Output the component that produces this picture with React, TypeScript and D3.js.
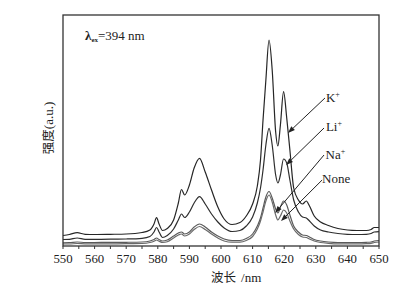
import React from "react";
import * as d3 from "d3";

const wavelengths = [550, 552, 554.5, 557, 560, 565, 570, 575, 577.5, 578.8, 579.6, 580.4, 581.5, 583, 585, 586.5, 587.5, 588.5, 590, 591.5, 593.2, 595, 597, 599, 601, 603.5, 606, 608, 610, 611.5, 612.5, 613.3, 614.2, 615.2, 616.2, 617.3, 618, 618.8, 619.8, 620.8, 621.8, 623, 624.5, 625.8, 627, 628, 629.5, 631.5, 634, 637, 640, 643, 646, 647.5, 648.5, 650];

const kValues = [10.5, 11.5, 13.3, 11.7, 11.5, 11.7, 12, 13.5, 16, 22, 28.3, 22, 15.5, 17.5, 26, 43, 56.5, 51, 61, 78, 87.7, 74, 56, 39, 27, 21.5, 23.5, 30, 42, 60, 86, 126, 166, 206, 176, 114, 100, 121, 154.3, 128, 96, 58, 46, 42, 45, 40, 30, 24, 20.5, 17.5, 16, 15.5, 15.5, 16.5, 18.5, 18.5];
const liValues = [6.5, 6.7, 8, 6.7, 6.7, 6.8, 7, 7.7, 9.5, 14, 18.5, 14, 8.5, 10.5, 17, 26, 32, 28.5, 34, 43, 49.3, 42, 32, 24, 18, 14.5, 15.5, 20, 29, 43, 58, 76, 101, 117.7, 101, 71, 63, 71, 87, 83, 66, 46, 34, 29, 28, 25, 20, 16, 14, 12.5, 11.7, 11.5, 11.7, 12.5, 14, 14.3];
const naValues = [3.2, 3.3, 4, 3.5, 3.5, 3.6, 3.7, 4, 5, 6.5, 8, 6.5, 5, 6, 10, 13, 14, 12, 14, 19, 22, 19, 14, 10, 7, 5.5, 5.5, 7.5, 12, 20, 28, 38, 49, 54.5, 48, 37, 33, 39, 45, 41, 31, 20, 14, 11, 10.5, 9, 6.5, 5, 4, 3.5, 3.5, 3.5, 3.7, 4, 5, 5.5];
const noneValues = [2, 2, 2.5, 2.2, 2.2, 2.2, 2.3, 2.5, 3.5, 4.8, 6, 4.8, 3.5, 4.3, 8, 11, 12, 10, 12, 16.5, 19.5, 16.5, 12, 8, 5, 3.8, 3.8, 5.5, 9.5, 17, 25, 34, 45, 51, 44, 31, 26, 30, 36, 33, 25, 17, 11.5, 9, 8.5, 7, 5, 3.5, 2.7, 2.2, 2.2, 2.2, 2.4, 2.7, 3.5, 4];

const seriesNames = ["K", "Li", "Na", "None"];
const seriesSup = ["+", "+", "+", ""];
const seriesValues = [kValues, liValues, naValues, noneValues];
const seriesColors = ["#262626", "#2e2e2e", "#5a5a5a", "#6a6a6a"];

// annotation: label anchor (nm, intensity), arrow start, arrow tip
const labelNm = [633.2, 633.2, 633.1, 632];
const labelVal = [144, 115, 87, 63.5];
const arrowFromNm = [632.9, 632.6, 632.6, 632];
const arrowFromVal = [148, 118, 91, 66];
const arrowToNm = [621.2, 620.6, 617.1, 619];
const arrowToVal = [113, 81, 33, 25];

const xTicks = [550, 555, 560, 565, 570, 575, 580, 585, 590, 595, 600, 605, 610, 615, 620, 625, 630, 635, 640, 645, 650];

const W = 417;
const H = 290;
const M = { left: 63, right: 379, top: 15, bottom: 246 };

export default function App() {
  const x = d3.scaleLinear().domain([550, 650]).range([M.left, M.right]);
  const y = d3.scaleLinear().domain([0, 231]).range([M.bottom, M.top]);
  const line = d3
    .line<number>()
    .x((_, i) => x(wavelengths[i]))
    .y((d) => y(d))
    .curve(d3.curveMonotoneX);

  const serif = "'Liberation Serif', 'Times New Roman', serif";
  const cjk = "'Noto Sans CJK SC', sans-serif";

  const arrowHead = (i: number) => {
    const x1 = x(arrowFromNm[i]);
    const y1 = y(arrowFromVal[i]);
    const x2 = x(arrowToNm[i]);
    const y2 = y(arrowToVal[i]);
    const ang = Math.atan2(y2 - y1, x2 - x1);
    const len = 7;
    const wid = 2.6;
    const bx = x2 - len * Math.cos(ang);
    const by = y2 - len * Math.sin(ang);
    const px = -Math.sin(ang) * wid;
    const py = Math.cos(ang) * wid;
    return {
      line: { x1, y1, x2: bx, y2: by },
      head: `M${x2},${y2}L${bx + px},${by + py}L${bx - px},${by - py}Z`,
    };
  };

  return (
    <svg
      width={W}
      height={H}
      style={{ position: "absolute", left: 0, top: 0, background: "#fff" }}
    >
      <rect x={0} y={0} width={W} height={H} fill="#fff" />
      {seriesValues.map((vals, i) => (
        <path
          key={i}
          d={line(vals) || ""}
          fill="none"
          stroke={seriesColors[i]}
          strokeWidth={1.2}
          strokeLinejoin="round"
        />
      ))}
      <rect
        x={M.left}
        y={M.top}
        width={M.right - M.left}
        height={M.bottom - M.top}
        fill="none"
        stroke="#333"
        strokeWidth={1.3}
      />
      {xTicks.map((t) => (
        <g key={t}>
          <line
            x1={x(t)}
            x2={x(t)}
            y1={M.bottom}
            y2={M.bottom + 3}
            stroke="#333"
            strokeWidth={1}
          />
          {t % 10 === 0 && (
            <text
              x={x(t)}
              y={262.5}
              textAnchor="middle"
              fontFamily={serif}
              fontSize={12.8}
              fill="#222"
            >
              {t}
            </text>
          )}
        </g>
      ))}
      <text x={211} y={282} fontFamily={cjk} fontSize={12.5} fill="#222">
        波长
        <tspan fontFamily={serif} fontSize={13} dx={5}>
          /nm
        </tspan>
      </text>
      <text
        transform={`translate(53,128) rotate(-90)`}
        textAnchor="middle"
        fontFamily={cjk}
        fontSize={12.5}
        fill="#222"
      >
        强度
        <tspan fontFamily={serif} fontSize={13}>
          (a.u.)
        </tspan>
      </text>
      <text x={85} y={40} fontFamily={serif} fontSize={13} fill="#222">
        <tspan fontWeight="bold">λ</tspan>
        <tspan fontSize={7} dy={2} fontWeight="bold">
          ex
        </tspan>
        <tspan dy={-2}>=394 nm</tspan>
      </text>
      {seriesNames.map((name, i) => {
        const a = arrowHead(i);
        return (
          <g key={name}>
            <line {...a.line} stroke="#222" strokeWidth={1} />
            <path d={a.head} fill="#222" />
            <text
              x={x(labelNm[i])}
              y={y(labelVal[i])}
              fontFamily={serif}
              fontSize={13}
              fill="#222"
            >
              {name}
              {seriesSup[i] && (
                <tspan fontSize={8} dy={-5}>
                  {seriesSup[i]}
                </tspan>
              )}
            </text>
          </g>
        );
      })}
    </svg>
  );
}
